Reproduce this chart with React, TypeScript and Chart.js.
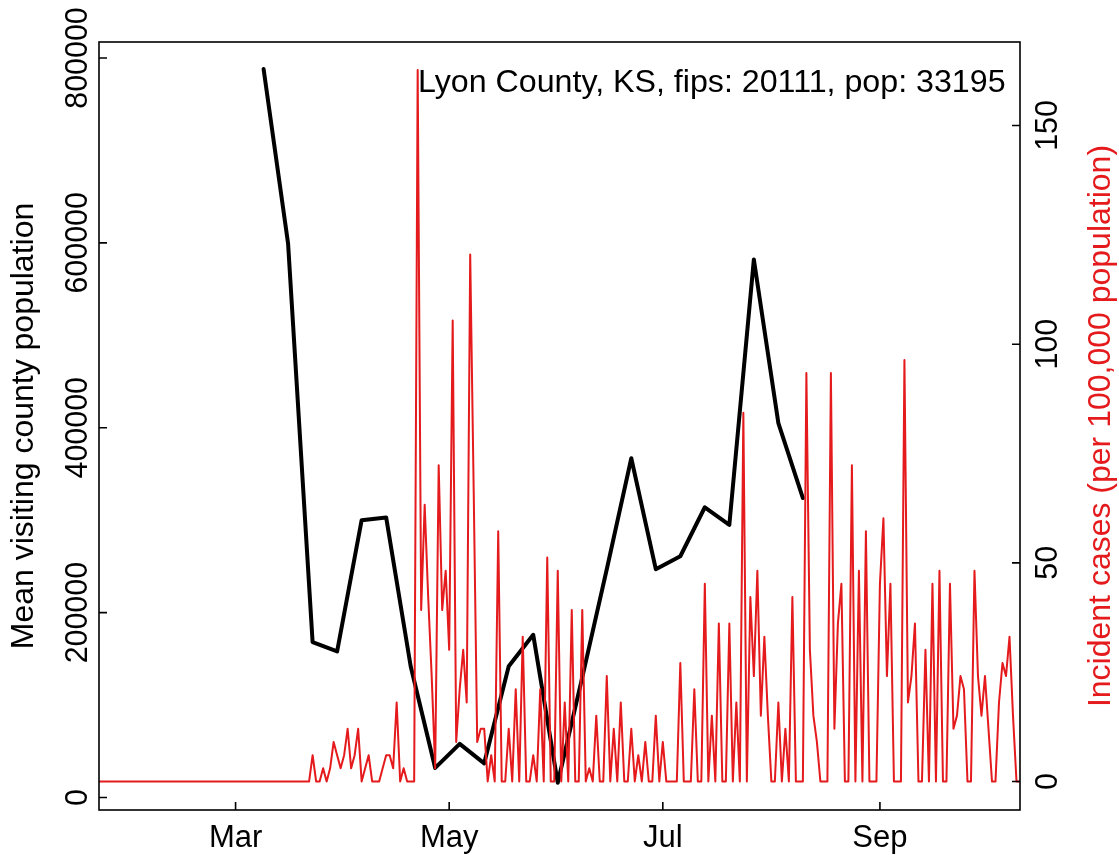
import { useEffect, useRef } from "react";
import { Chart, registerables } from "chart.js";

Chart.register(...registerables);

const FONT = "'Liberation Sans', Arial, Helvetica, sans-serif";
const RED = "#E41A1C";

const countyLabel = "Lyon County, KS, fips: 20111, pop: 33195";
const leftAxisTitle = "Mean visiting county population";
const rightAxisTitle = "Incident cases (per 100,000 population)";

// x values are day indices, day 0 = 2020-01-22
const xMin = 0;
const xMax = 263;
const monthTickDays = [39, 100, 161, 223];
const monthTickLabels = ["Mar", "May", "Jul", "Sep"];
const leftTicks = [0, 200000, 400000, 600000, 800000];
const rightTicks = [0, 50, 100, 150];

// weekly mean visiting county population (black)
const visitDays = [47, 54, 61, 68, 75, 82, 89, 96, 103, 110, 117, 124, 131, 138, 145, 152, 159, 166, 173, 180, 187, 194, 201];
const visitValues = [
  788000, 599000, 168000, 158000, 300000, 303000, 142000, 32000, 58000, 37000, 142000, 176000,
  16000, 130000, 247000, 367000, 247000, 261000, 314000, 295000, 582000, 405000, 324000,
];

// daily incident cases per 100,000 (red), day 0 .. 263
const incidentValues = [
  0, 0, 0, 0, 0, 0, 0, 0, 0, 0,
  0, 0, 0, 0, 0, 0, 0, 0, 0, 0,
  0, 0, 0, 0, 0, 0, 0, 0, 0, 0,
  0, 0, 0, 0, 0, 0, 0, 0, 0, 0,
  0, 0, 0, 0, 0, 0, 0, 0, 0, 0,
  0, 0, 0, 0, 0, 0, 0, 0, 0, 0,
  0, 6.02, 0, 0, 3.01, 0, 3.01, 9.04, 6.02, 3.01,
  6.02, 12.05, 3.01, 6.02, 12.05, 0, 3.01, 6.02, 0, 0,
  0, 3.01, 6.02, 6.02, 3.01, 18.07, 0, 3.01, 0, 0,
  0, 162.7, 39.2, 63.3, 42.2, 24.1, 3.01, 72.3, 39.2, 48.2,
  30.1, 105.4, 9.04, 21.1, 30.1, 18.07, 120.5, 66.3, 9.04, 12.05,
  12.05, 0, 6.02, 0, 57.2, 0, 0, 12.05, 0, 21.1,
  0, 33.1, 0, 0, 6.02, 0, 21.1, 0, 51.2, 0,
  0, 48.2, 0, 18.07, 0, 39.2, 0, 0, 39.2, 0,
  3.01, 0, 15.06, 0, 0, 24.1, 0, 12.05, 0, 18.07,
  0, 0, 12.05, 0, 6.02, 0, 9.04, 0, 0, 15.06,
  0, 9.04, 0, 0, 0, 0, 27.1, 0, 0, 0,
  21.1, 0, 0, 45.2, 0, 15.06, 0, 36.1, 0, 0,
  36.1, 0, 18.07, 0, 84.3, 0, 42.2, 24.1, 48.2, 15.06,
  33.1, 15.06, 0, 0, 18.07, 0, 12.05, 0, 42.2, 0,
  0, 0, 93.4, 30.1, 15.06, 9.04, 0, 0, 0, 93.4,
  12.05, 36.1, 45.2, 0, 0, 72.3, 0, 48.2, 0, 57.2,
  0, 0, 0, 45.2, 60.2, 24.1, 45.2, 0, 0, 0,
  96.4, 18.07, 24.1, 36.1, 0, 0, 30.1, 0, 45.2, 0,
  48.2, 0, 0, 45.2, 12.05, 15.06, 24.1, 21.1, 0, 0,
  48.2, 24.1, 15.06, 24.1, 12.05, 0, 0, 18.07, 27.1, 24.1,
  33.1, 15.06, 0, 0,
];

function drawRotated(ctx: CanvasRenderingContext2D, text: string, baselineX: number, centerY: number, font: string, sx: number, color: string) {
  ctx.save();
  ctx.translate(baselineX, centerY);
  ctx.rotate(-Math.PI / 2);
  ctx.scale(sx, 1);
  ctx.font = font;
  ctx.fillStyle = color;
  ctx.textAlign = "center";
  ctx.textBaseline = "alphabetic";
  ctx.fillText(text, 0, 0);
  ctx.restore();
}

const rAxesPlugin = {
  id: "rAxes",
  afterDraw(chart: any) {
    const { ctx, chartArea: a, scales } = chart;
    const xs = scales.x;
    const yl = scales.yLeft;
    const yr = scales.yRight;
    ctx.save();
    ctx.strokeStyle = "#000";
    ctx.lineWidth = 1.6;
    ctx.strokeRect(a.left, a.top, a.right - a.left, a.bottom - a.top);

    ctx.beginPath();
    monthTickDays.forEach((d) => {
      const px = xs.getPixelForValue(d);
      ctx.moveTo(px, a.bottom);
      ctx.lineTo(px, a.bottom - 8);
    });
    leftTicks.forEach((v) => {
      const py = yl.getPixelForValue(v);
      ctx.moveTo(a.left, py);
      ctx.lineTo(a.left + 8, py);
    });
    rightTicks.forEach((v) => {
      const py = yr.getPixelForValue(v);
      ctx.moveTo(a.right, py);
      ctx.lineTo(a.right - 8, py);
    });
    ctx.stroke();

    ctx.fillStyle = "#000";
    ctx.font = `31px ${FONT}`;
    ctx.textAlign = "center";
    ctx.textBaseline = "alphabetic";
    monthTickDays.forEach((d, i) => {
      ctx.fillText(monthTickLabels[i], xs.getPixelForValue(d), 847);
    });

    leftTicks.forEach((v) => {
      drawRotated(ctx, String(v), 87, yl.getPixelForValue(v), `31px ${FONT}`, 0.98, "#000");
    });
    rightTicks.forEach((v) => {
      drawRotated(ctx, String(v), 1057, yr.getPixelForValue(v), `31px ${FONT}`, 0.98, "#000");
    });

    const midY = (a.top + a.bottom) / 2;
    drawRotated(ctx, leftAxisTitle, 33, midY, `32px ${FONT}`, 1.0, "#000");
    drawRotated(ctx, rightAxisTitle, 1110, midY, `32px ${FONT}`, 1.0, RED);

    ctx.font = `32.2px ${FONT}`;
    ctx.fillStyle = "#000";
    ctx.textAlign = "left";
    ctx.fillText(countyLabel, 418, 92);
    ctx.restore();
  },
};

export default function App() {
  const canvasRef = useRef<HTMLCanvasElement | null>(null);

  useEffect(() => {
    const canvas = canvasRef.current;
    if (!canvas) return;
    const incidentPoints = incidentValues.map((v, i) => ({ x: xMin + i, y: v }));
    const visitPoints = visitDays.map((d, i) => ({ x: d, y: visitValues[i] }));
    const chart = new Chart(canvas, {
      type: "line",
      data: {
        datasets: [
          {
            label: rightAxisTitle,
            data: incidentPoints,
            yAxisID: "yRight",
            borderColor: RED,
            borderWidth: 2,
            pointRadius: 0,
            tension: 0,
            fill: false,
            borderJoinStyle: "round",
            borderCapStyle: "round",
          },
          {
            label: leftAxisTitle,
            data: visitPoints,
            yAxisID: "yLeft",
            borderColor: "#000000",
            borderWidth: 4,
            pointRadius: 0,
            tension: 0,
            fill: false,
            borderJoinStyle: "round",
            borderCapStyle: "round",
          },
        ],
      },
      options: {
        animation: false,
        responsive: false,
        devicePixelRatio: 1,
        events: [],
        layout: { padding: { left: 99, right: 99, top: 42, bottom: 45 } },
        plugins: { legend: { display: false }, tooltip: { enabled: false }, title: { display: false } },
        scales: {
          x: { type: "linear", min: xMin, max: xMax, display: false },
          yLeft: { type: "linear", position: "left", min: -13500, max: 817300, display: false },
          yRight: { type: "linear", position: "right", min: -6.52, max: 169.1, display: false },
        },
      },
      plugins: [rAxesPlugin],
    });
    return () => chart.destroy();
  }, []);

  return (
    <div style={{ position: "absolute", left: 0, top: 0, width: 1119, height: 855, background: "#fff" }}>
      <canvas ref={canvasRef} width={1119} height={855} style={{ display: "block" }} />
    </div>
  );
}
